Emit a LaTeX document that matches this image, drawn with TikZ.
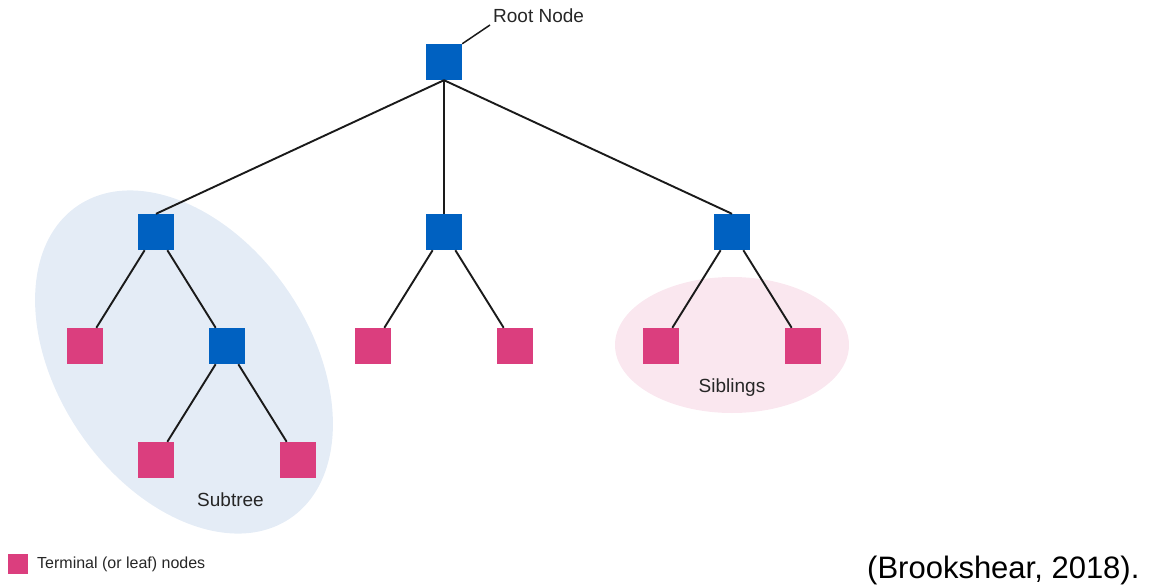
\documentclass[tikz,border=0pt]{standalone}
\usepackage{fontspec}
\setmainfont{Liberation Sans}
\usetikzlibrary{shapes.geometric}
\definecolor{nodeblue}{HTML}{0061C1}
\definecolor{leafpink}{HTML}{DB3E7E}
\definecolor{subfill}{HTML}{E4ECF6}
\definecolor{sibfill}{HTML}{FAE7EF}
\definecolor{edgecol}{HTML}{1A1A1A}
\tikzset{
  inner/.style={rectangle, fill=nodeblue, minimum size=36pt, inner sep=0pt},
  leaf/.style={rectangle, fill=leafpink, minimum size=36pt, inner sep=0pt},
  edge/.style={draw=edgecol, line width=1.9pt},
  lbl/.style={font=\fontsize{19}{22}\selectfont, text=black!85, inner sep=0pt},
}
\begin{document}
\begin{tikzpicture}[x=1pt,y=-1pt]
\useasboundingbox (0,0) rectangle (1149,586);
% highlight ellipses
\node[ellipse, fill=subfill, minimum width=378pt, minimum height=252pt, inner sep=0pt, rotate=-55.7] (subell) at (184,362) {};
\node[ellipse, fill=sibfill, minimum width=234pt, minimum height=136pt, inner sep=0pt] (sibell) at (732,345) {};
% nodes
\node[inner] (root) at (444,62) {};
\node[inner] (a) at (156,232) {};
\node[inner] (b) at (444,232) {};
\node[inner] (c) at (732,232) {};
\node[leaf] (a1) at (85,346) {};
\node[inner] (a2) at (227,346) {};
\node[leaf] (b1) at (373,346) {};
\node[leaf] (b2) at (515,346) {};
\node[leaf] (c1) at (661,346) {};
\node[leaf] (c2) at (803,346) {};
\node[leaf] (a21) at (156,460) {};
\node[leaf] (a22) at (298,460) {};
% edges
\draw[edge] (root.south) -- (a.north);
\draw[edge] (root.south) -- (b.north);
\draw[edge] (root.south) -- (c.north);
\draw[edge] (a) -- (a1);
\draw[edge] (a) -- (a2);
\draw[edge] (b) -- (b1);
\draw[edge] (b) -- (b2);
\draw[edge] (c) -- (c1);
\draw[edge] (c) -- (c2);
\draw[edge] (a2) -- (a21);
\draw[edge] (a2) -- (a22);
% labels
\node[lbl, anchor=base west] (rootlbl) at (493,23) {Root Node};
\coordinate (rootlblpt) at (490,25);
\draw[edge, line width=1.5pt] (root.north east) -- (rootlblpt);
\node[lbl, anchor=base] (sublbl) at (230.5,506) {Subtree};
\node[lbl, anchor=base] (siblbl) at (732,392) {Siblings};
% legend
\node[rectangle, fill=leafpink, minimum size=20pt, inner sep=0pt] (legsq) at (18,564) {};
\node[anchor=west, font=\fontsize{16}{19}\selectfont, text=black!85, inner sep=0pt] (legtxt) at (37,564) {Terminal (or leaf) nodes};
\node[anchor=base west, font=\fontsize{31}{36}\selectfont, inner sep=0pt] (cite) at (867,578) {(Brookshear, 2018).};
\end{tikzpicture}
\end{document}
